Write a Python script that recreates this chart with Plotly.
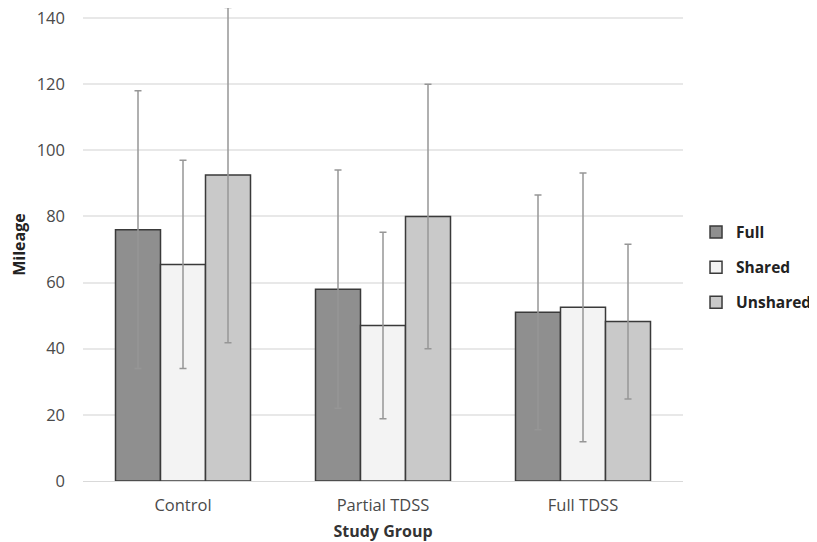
import plotly.graph_objects as go

categories = ["Control", "Partial TDSS", "Full TDSS"]
series_names = ["Full", "Shared", "Unshared"]
full_vals = [76, 58, 51]
shared_vals = [65.5, 47, 52.5]
unshared_vals = [92.5, 80, 48.2]
full_err = [42, 36, 35.5]
shared_err = [31.5, 28.2, 40.6]
unshared_err = [50.7, 40, 23.4]
y_ticks = [0, 20, 40, 60, 80, 100, 120, 140]

values = [full_vals, shared_vals, unshared_vals]
errors = [full_err, shared_err, unshared_err]
colors = ["#8f8f8f", "#f3f3f3", "#c9c9c9"]

fig = go.Figure()
for name, v, e, c in zip(series_names, values, errors, colors):
    fig.add_trace(go.Bar(
        x=categories, y=v, name=name, legendgroup=name,
        marker=dict(color=c, line=dict(color="#3a3a3a", width=1.5)),
        error_y=dict(type="data", array=e, visible=True, color="#969696",
                     thickness=1.5, width=3.5),
    ))

fig.update_layout(
    width=809, height=534,
    margin=dict(l=75, r=134, t=0, b=61, autoexpand=False),
    paper_bgcolor="white", plot_bgcolor="white",
    barmode="group", bargap=0.325, bargroupgap=0,
    font=dict(family="Open Sans, Liberation Sans, sans-serif", color="#595959", size=16),
    showlegend=True,
    legend=dict(x=1.0217, y=0.4514, yanchor="middle", xanchor="left",
                font=dict(size=15.5, color="#222222", family="Open Sans", weight="bold"),
                tracegroupgap=12, traceorder="grouped",
                itemwidth=30),
    xaxis=dict(
        automargin=False,
        showline=True, linecolor="#d9d9d9", linewidth=1,
        title=dict(text="<b>Study Group</b>", font=dict(size=16, color="#333333"), standoff=12),
        tickfont=dict(size=16.5, color="#4a4a4a"),
        ticks="", ticklabelstandoff=9,
    ),
    yaxis=dict(
        automargin=False,
        range=[0, 143.02], tickvals=y_ticks,
        showgrid=True, gridcolor="#e8e8e8", gridwidth=1.5,
        zeroline=False,
        ticklabeloverflow="allow",
        title=dict(text="<b>Mileage</b>", font=dict(size=16, color="#222222"), standoff=14),
        tickfont=dict(size=16.5, color="#4a4a4a"),
        ticks="", ticklabelstandoff=17,
    ),
)

fig.write_html("out.html")
